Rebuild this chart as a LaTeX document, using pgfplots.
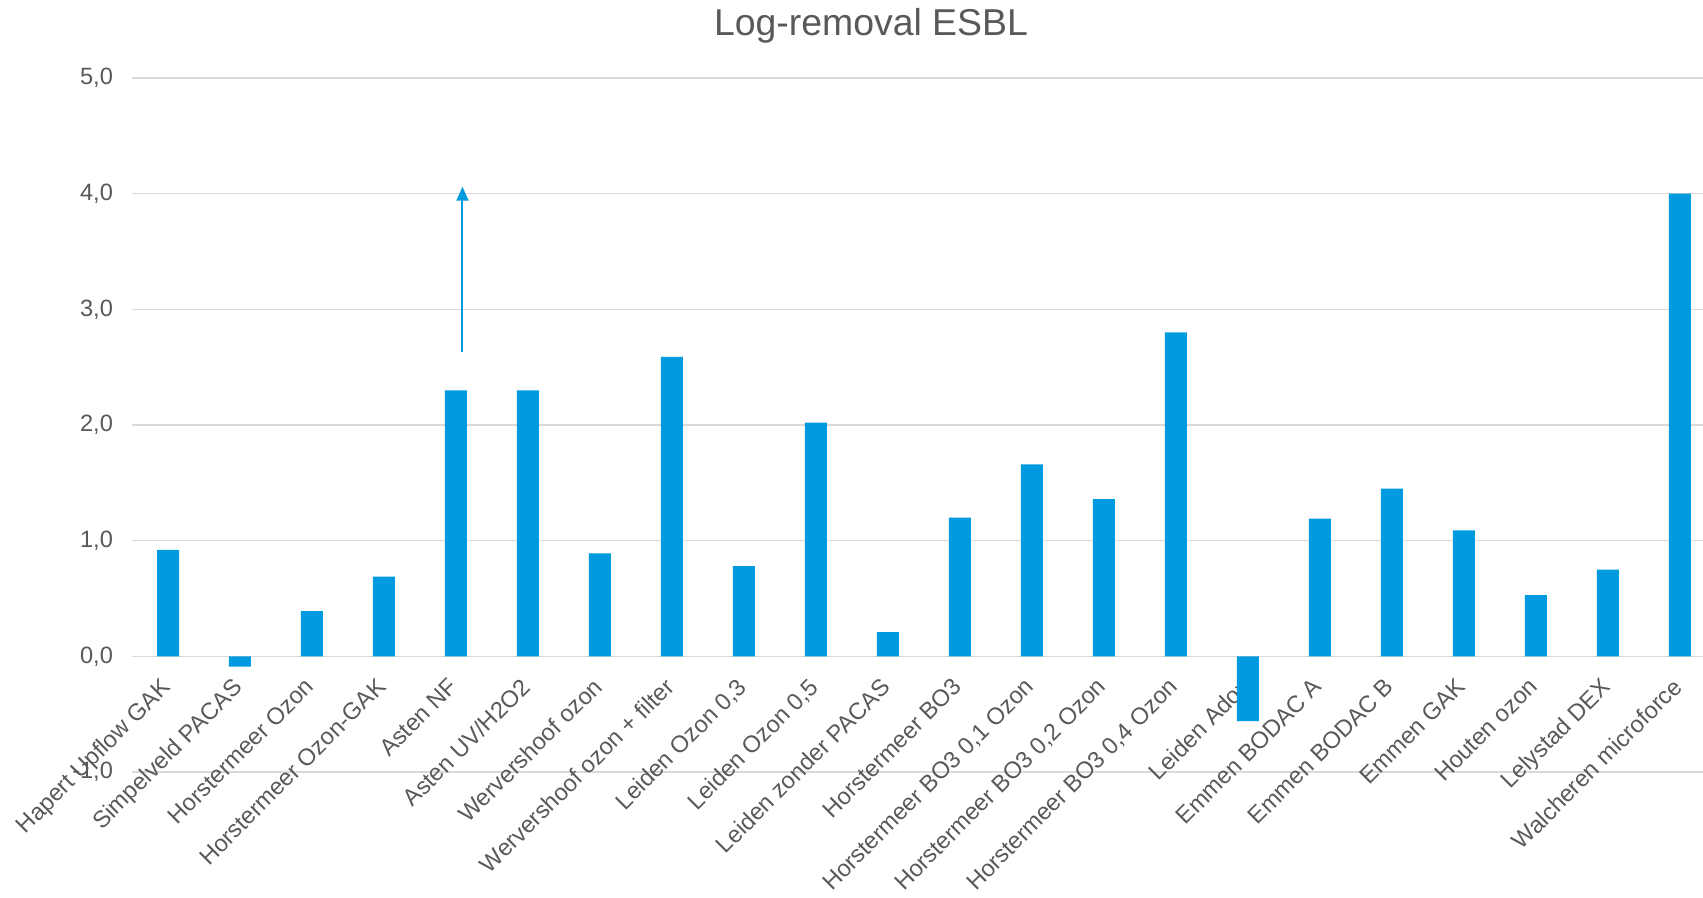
\documentclass[border=0pt]{standalone}
\usepackage{fontspec}
\setmainfont{Liberation Sans}
\usepackage{pgfplots}
\pgfplotsset{compat=1.18}
\usetikzlibrary{arrows.meta}
\definecolor{barblue}{HTML}{009ADE}
\definecolor{txtgray}{HTML}{595959}
\definecolor{gridgray}{HTML}{D9D9D9}
\begin{document}
\begin{tikzpicture}
\useasboundingbox (0,0) rectangle (851.5pt,449pt);
\node[text=txtgray, font=\fontsize{18.7}{22}\selectfont] at (435.5pt,436pt) {Log-removal ESBL};
\begin{axis}[
 at={(66pt,63pt)}, anchor=south west,
 scale only axis, width=785.5pt, height=347pt,
 xmin=-0.5, xmax=21.32, ymin=-1, ymax=5,
 axis x line=middle, axis y line=left,
 axis line style={draw=none},
 hide obscured x ticks=false, hide obscured y ticks=false,
 major tick length=0pt,
 ytick={-1,0,1,2,3,4,5},
 ymajorgrids, grid style={gridgray, line width=0.75pt},
 xtick={0,...,21},
 xticklabels={Hapert Upflow GAK, Simpelveld PACAS, Horstermeer Ozon, Horstermeer Ozon-GAK, Asten NF, Asten UV/H2O2, Wervershoof ozon, Wervershoof ozon + filter, {Leiden Ozon 0,3}, {Leiden Ozon 0,5}, Leiden zonder PACAS, Horstermeer BO3, {Horstermeer BO3 0,1 Ozon}, {Horstermeer BO3 0,2 Ozon}, {Horstermeer BO3 0,4 Ozon}, Leiden Adox, Emmen BODAC A, Emmen BODAC B, Emmen GAK, Houten ozon, Lelystad DEX, Walcheren microforce},
 tick label style={text=txtgray, font=\fontsize{11.8}{14}\selectfont},
 xticklabel style={rotate=45, anchor=north east, inner sep=1pt, xshift=-9pt, yshift=-3pt},
 yticklabel style={anchor=east, xshift=-6pt},
 /pgf/number format/.cd, use comma, fixed, fixed zerofill, precision=1, assume math mode=true
]
\addplot[ybar, bar width=11pt, fill=barblue, draw=none] coordinates {
 (0,0.92) (1,-0.09) (2,0.39) (3,0.69) (4,2.30) (5,2.30) (6,0.89) (7,2.59)
 (8,0.78) (9,2.02) (10,0.21) (11,1.20) (12,1.66) (13,1.36) (14,2.80)
 (15,-0.56) (16,1.19) (17,1.45) (18,1.09) (19,0.53) (20,0.75) (21,4.00)
};
\addplot[barblue, line width=1pt, -{Triangle[width=6pt,length=7pt]}] coordinates {(4.09,2.63) (4.09,4.06)};
\end{axis}
\end{tikzpicture}
\end{document}
